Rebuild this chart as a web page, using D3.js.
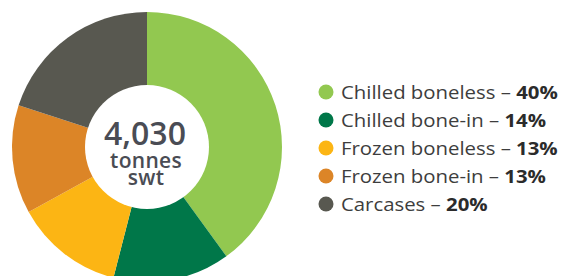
<!DOCTYPE html>
<html>
<head>
<meta charset="utf-8">
<script src="https://cdn.jsdelivr.net/npm/d3@7"></script>
<style>
  html, body { margin: 0; padding: 0; background: #fff; }
  svg { display: block; }
</style>
</head>
<body>
<div id="chart"></div>
<script>
// Beef export mix, share of 4,030 tonnes swt
var CATEGORIES = ["Chilled boneless", "Chilled bone-in", "Frozen boneless", "Frozen bone-in", "Carcases"];
var SHARES = [40, 14, 13, 13, 20];
var COLORS = ["#92c850", "#007749", "#fcb514", "#dc8527", "#585850"];
var TOTAL_LABEL = ["4,030", "tonnes", "swt"];

var width = 569, height = 276;
var cx = 147, cy = 147, outerR = 135, innerR = 62;

var svg = d3.select("#chart").append("svg")
  .attr("width", width)
  .attr("height", height);

var pie = d3.pie().sort(null).value(function(d) { return d; });
var arc = d3.arc().innerRadius(0).outerRadius(outerR);

var g = svg.append("g").attr("transform", "translate(" + cx + "," + cy + ")");

g.selectAll("path.slice")
  .data(pie(SHARES))
  .enter().append("path")
  .attr("class", "slice")
  .attr("d", arc)
  .attr("fill", function(d, i) { return COLORS[i]; });

// white hole in the middle
g.append("circle").attr("r", innerR).attr("fill", "#fff");

var font = "'Open Sans', sans-serif";
// one text block, three stacked lines
var centerText = g.append("text")
  .attr("fill", "#4a4c54")
  .attr("font-family", font)
  .attr("font-weight", 600)
  .attr("text-anchor", "middle");
centerText.append("tspan").attr("x", -2).attr("y", -2)
  .attr("font-size", "32px").text(TOTAL_LABEL[0]);
centerText.append("tspan").attr("x", -1).attr("y", 21)
  .attr("font-size", "21px").attr("letter-spacing", "0.3px").text(TOTAL_LABEL[1]);
centerText.append("tspan").attr("x", -1).attr("y", 38)
  .attr("font-size", "21px").attr("letter-spacing", "0.3px").text(TOTAL_LABEL[2]);

// legend
var legendY = d3.scalePoint().domain(CATEGORIES).range([92, 204]);
var legend = svg.append("g").attr("font-family", font);
var items = legend.selectAll("g.item")
  .data(CATEGORIES)
  .enter().append("g")
  .attr("class", "item")
  .attr("transform", function(d) { return "translate(326," + legendY(d) + ")"; });

items.append("circle").attr("r", 7.5).attr("fill", function(d, i) { return COLORS[i]; });

var label = items.append("text")
  .attr("font-size", "18.5px")
  .attr("fill", "#3d3d3d");
label.append("tspan").text(function(d) { return d + " \u2013 "; });
label.append("tspan").attr("font-weight", 700).attr("fill", "#2b2b2b")
  .text(function(d, i) { return SHARES[i] + "%"; });

// the original face is wider than Open Sans: stretch so the first row is ~217px
var sx = 217 / label.node().getComputedTextLength();
label.attr("transform", "translate(15,6.5) scale(" + sx.toFixed(3) + ",1)");
</script>
</body>
</html>
